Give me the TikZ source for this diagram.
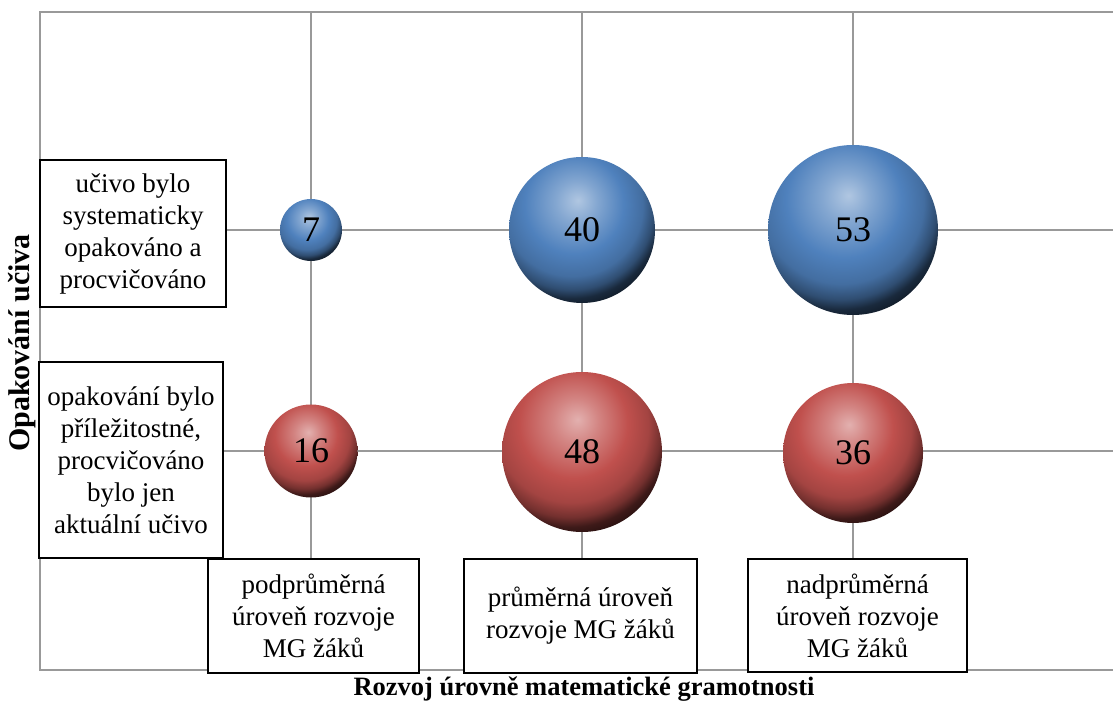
\documentclass[tikz,border=0pt]{standalone}
\usepackage{fontspec}
\setmainfont{Liberation Serif}
\usetikzlibrary{calc}
\definecolor{bbase}{RGB}{79,129,189}
\definecolor{rbase}{RGB}{192,80,77}
\pgfdeclareradialshading{blueball}{\pgfpoint{4bp}{4bp}}{%
  color(0bp)=(bbase!45!white); color(5bp)=(bbase!70!white);
  color(12bp)=(bbase); color(17bp)=(bbase!85!black);
  color(20bp)=(bbase!60!black); color(22bp)=(bbase!32!black);
  color(25bp)=(bbase!16!black); color(50bp)=(bbase!16!black)}
\pgfdeclareradialshading{redball}{\pgfpoint{4bp}{4bp}}{%
  color(0bp)=(rbase!45!white); color(5bp)=(rbase!70!white);
  color(12bp)=(rbase); color(17bp)=(rbase!85!black);
  color(20bp)=(rbase!60!black); color(22bp)=(rbase!32!black);
  color(25bp)=(rbase!16!black); color(50bp)=(rbase!16!black)}
\tikzset{
  grid line/.style={draw=black!40, line width=1.8pt},
  bubble/.style={circle, inner sep=0pt, font=\fontsize{36}{40}\selectfont},
  blueb/.style={bubble, minimum size=#1pt,
    path picture={\shade[shading=blueball]
      ($(path picture bounding box.center)+(-0.14*#1pt,0.09*#1pt)$) circle[radius=0.7071*#1pt];}},
  redb/.style={bubble, minimum size=#1pt,
    path picture={\shade[shading=redball]
      ($(path picture bounding box.center)+(-0.14*#1pt,0.09*#1pt)$) circle[radius=0.7071*#1pt];}},
  lab/.style={draw=black, line width=1.6pt, fill=white, align=center, inner sep=0pt,
              font=\fontsize{27}{32}\selectfont},
  axt/.style={font=\fontsize{#1}{30}\selectfont\bfseries}
}
\begin{document}
\begin{tikzpicture}[x=1pt,y=1pt]
\useasboundingbox (0,0) rectangle (1113,704);
% grid
\draw[grid line] (1113,692) -- (40,692) -- (40,34) -- (1113,34);
\foreach \gx in {311,582,853} \draw[grid line] (\gx,692) -- (\gx,34);
\foreach \gy in {474,253} \draw[grid line] (40,\gy) -- (1113,\gy);
% bubbles
\node[blueb=62]  (b7)  at (311,474) {7};
\node[blueb=146] (b40) at (582,474) {40};
\node[blueb=170] (b53) at (853,474) {53};
\node[redb=93]   (b16) at (311,253) {16};
\node[redb=160]  (b48) at (582,252) {48};
\node[redb=140]  (b36) at (853,251) {36};
% labels
\node[lab, minimum width=186pt, minimum height=147pt] (la) at (133,470.5)
  {učivo bylo\\systematicky\\opakováno a\\procvičováno};
\node[lab, minimum width=184pt, minimum height=196pt] (lb) at (131,244)
  {opakování bylo\\příležitostné,\\procvičováno\\bylo jen\\aktuální učivo};
\node[lab, minimum width=211pt, minimum height=114pt] (lc) at (313.5,88)
  {podprůměrná\\úroveň rozvoje\\MG žáků};
\node[lab, minimum width=233pt, minimum height=114pt] (ld) at (580.5,88)
  {průměrná úroveň\\rozvoje MG žáků};
\node[lab, minimum width=219pt, minimum height=113pt] (le) at (857.5,88.5)
  {nadprůměrná\\úroveň rozvoje\\MG žáků};
% axis titles
\node[axt=30, rotate=90] (ty) at (22,361) {Opakování učiva};
\node[axt=26.5] (tx) at (584,15) {Rozvoj úrovně matematické gramotnosti};
\end{tikzpicture}
\end{document}
